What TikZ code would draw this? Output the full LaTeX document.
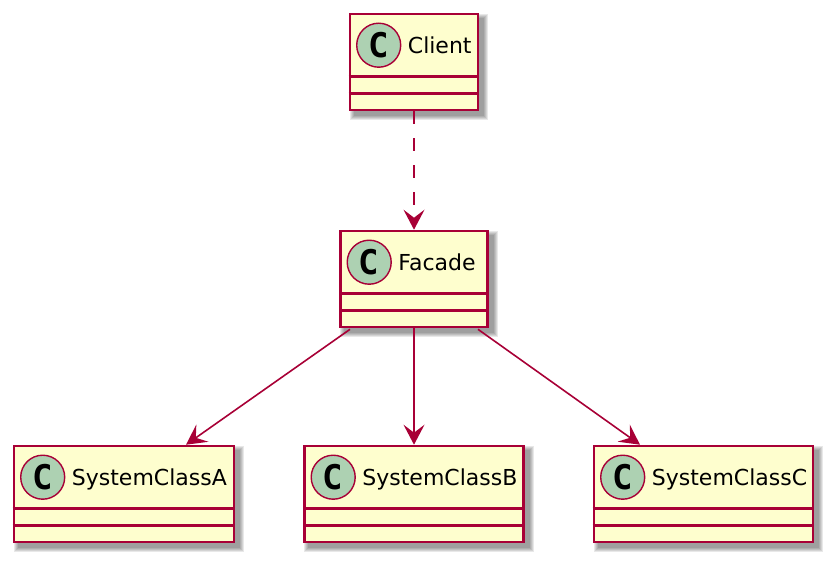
\documentclass[tikz,border=0pt]{standalone}
\usepackage{fontspec}
\setmainfont{DejaVu Sans}
\newfontfamily\cfont{DejaVu Sans Mono}
\usetikzlibrary{arrows.meta,calc}
\pgfdeclarelayer{background}
\pgfsetlayers{background,main}
\definecolor{umlfill}{HTML}{FEFECE}
\definecolor{umlline}{HTML}{A80036}
\definecolor{umlcirc}{HTML}{ADD1B2}
\tikzset{
  classbox/.style={draw=umlline, fill=umlfill, line width=2.6pt, inner sep=0pt, minimum height=96pt, rectangle},
  sepline/.style={draw=umlline, line width=2.6pt},
  circ/.style={circle, draw=umlline, fill=umlcirc, line width=1.4pt, minimum size=44pt, inner sep=0pt, font=\cfont\bfseries\fontsize{34}{34}\selectfont},
  lbl/.style={inner sep=0pt, font=\fontsize{22}{26}\selectfont},
  assoc/.style={draw=umlline, line width=1.6pt, -{Stealth[length=20pt, width=21pt, inset=8pt]}},
  dep/.style={assoc, dash pattern=on 13pt off 14pt},
  shadowlayer/.style={fill=black, opacity=0.09}
}
\newcommand\umlclass[5]{%
  \node[classbox, minimum width=#4pt] (#1) at (#2, #3+48) {};
  \begin{pgfonlayer}{background}
    \foreach \d in {4,3,2,1,0}{
      \fill[shadowlayer] ($(#1.north west)+(5-\d,5-\d)$) rectangle ($(#1.south east)+(5+\d,5+\d)$);
    }
  \end{pgfonlayer}
  \draw[sepline] ($(#1.north west)+(0,64)$) -- ($(#1.north east)+(0,64)$);
  \draw[sepline] ($(#1.north west)+(0,80.5)$) -- ($(#1.north east)+(0,80.5)$);
  \node[circ] (#1-c) at ($(#1.north west)+(30,32.5)$) {C};
  \node[lbl, anchor=base west] (#1-t) at ($(#1.north west)+(59,41)$) {#5};
}
\begin{document}
\begin{tikzpicture}[x=1pt, y=-1pt]
  \useasboundingbox (0,0) rectangle (840,568);
  \umlclass{client}{414}{14}{128}{Client}
  \umlclass{facade}{414}{231}{147}{Facade}
  \umlclass{sysa}{124}{446}{220}{SystemClassA}
  \umlclass{sysb}{414}{446}{219}{SystemClassB}
  \umlclass{sysc}{703.5}{446}{219}{SystemClassC}
  \draw[dep] (client.south) -- (facade.north);
  \draw[assoc] ($(facade.south)+(-64,1)$) -- ($(sysa.north)+(62,0)$);
  \draw[assoc] (facade.south) -- (sysb.north);
  \draw[assoc] ($(facade.south)+(64,1)$) -- ($(sysc.north)+(-63.5,0)$);
\end{tikzpicture}
\end{document}
